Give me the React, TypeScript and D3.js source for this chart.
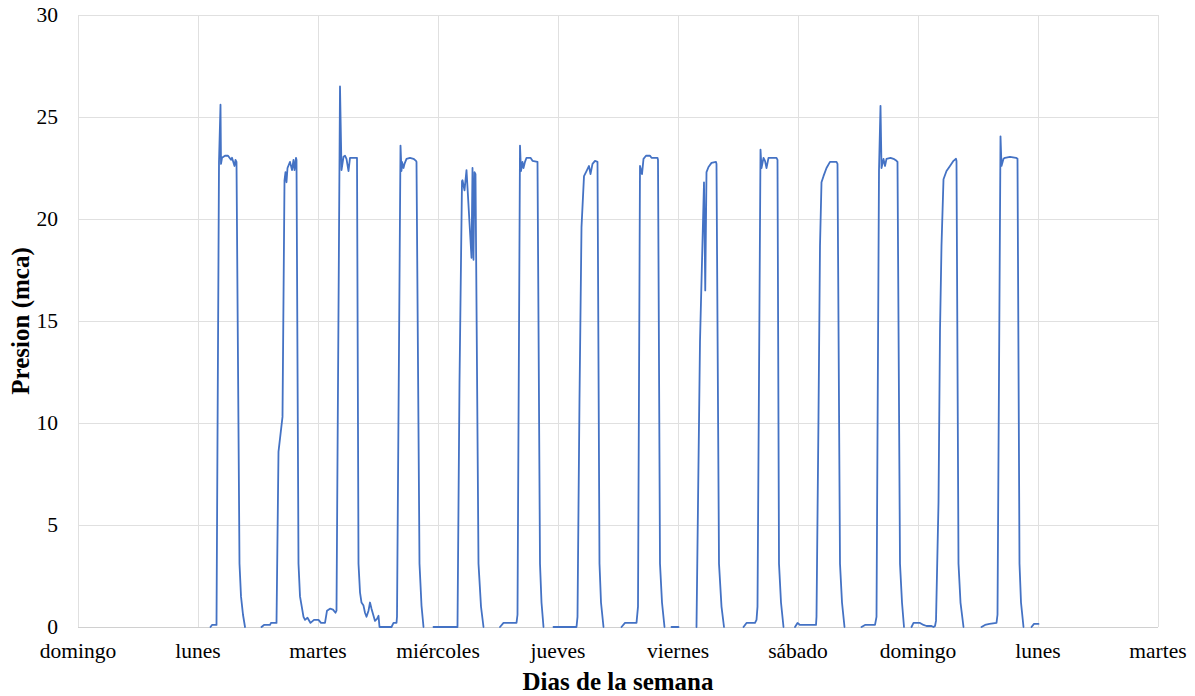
import React from "react";
import * as d3 from "d3";

// Pressure readings: [hours since Sunday 00:00, pressure in m.c.a.]; null marks a gap in logging
const readings: [number, number | null][] = [
  // lunes
  [26.5, 0], [26.8, 0.1], [27.7, 0.1], [28.2, 22.8], [28.5, 25.6], [28.6, 22.7], [28.8, 23.0], [29.4, 23.1],
  [30.0, 23.1], [30.6, 22.9], [30.8, 23.0], [31.3, 22.6], [31.5, 22.9], [31.7, 22.8], [32.3, 3.1], [32.6, 1.5],
  [33.0, 0.6], [33.4, 0], [33.5, null],
  [36.7, 0], [37.2, 0.1], [38.4, 0.1], [38.6, 0.2], [39.7, 0.2], [40.1, 8.6], [40.9, 10.3], [41.3, 21.9],
  [41.5, 22.3], [41.7, 21.8], [41.9, 22.5], [42.4, 22.8], [42.8, 22.4], [43.1, 22.9], [43.3, 22.4], [43.6, 23.0],
  [43.7, 22.9], [44.1, 3.1], [44.4, 1.5], [45.1, 0.5], [45.4, 0.35], [45.9, 0.45], [46.5, 0.2], [47.2, 0.35],
  // martes
  [48.1, 0.35], [48.6, 0.2], [49.4, 0.2], [49.8, 0.8], [50.4, 0.9], [51.0, 0.85], [51.5, 0.7], [51.7, 0.8],
  [52.4, 26.5], [52.7, 22.4], [53.1, 23.05], [53.4, 23.1], [53.7, 22.95], [54.1, 22.35], [54.4, 23.0], [55.8, 23.0],
  [56.1, 3.1], [56.4, 1.7], [56.7, 1.2], [57.1, 1.05], [57.4, 0.7], [57.7, 0.5], [58.1, 0.8], [58.4, 1.2],
  [58.7, 0.9], [59.1, 0.55], [59.4, 0.3], [59.8, 0.4], [60.1, 0.55], [60.3, 0], [62.7, 0], [63.1, 0.2],
  [63.7, 0.2], [63.8, 0.5], [64.5, 23.6], [64.7, 22.35], [64.8, 22.8], [65.1, 22.5], [65.3, 22.7], [65.7, 22.95],
  [66.4, 23.0], [67.1, 22.95], [67.6, 22.85], [67.7, 22.8], [68.3, 3.1], [68.7, 1.05], [69.1, 0], [69.2, null],
  // miércoles
  [71.1, 0], [75.9, 0], [76.3, 12], [76.8, 21.85], [76.9, 21.9], [77.3, 21.4], [77.7, 22.4], [78.7, 18.1],
  [78.9, 22.5], [79.1, 18.0], [79.3, 22.3], [79.5, 22.2], [80.1, 3.1], [80.6, 1.0], [81.1, 0], [81.2, null],
  [84.4, 0], [85.1, 0.2], [87.7, 0.2], [87.9, 0.6], [88.4, 23.6], [88.6, 22.35], [88.9, 22.8], [89.1, 22.5],
  [89.4, 22.8], [89.7, 23.0], [90.5, 23.0], [90.9, 22.85], [91.9, 22.8], [92.4, 3.1], [92.7, 1.2], [93.1, 0],
  [93.2, null],
  // jueves
  [95.1, 0], [99.7, 0], [99.9, 0.5], [100.3, 11.2], [100.7, 19.6], [101.2, 22.1], [101.7, 22.35], [102.2, 22.6],
  [102.5, 22.2], [102.9, 22.7], [103.4, 22.85], [103.9, 22.8], [104.3, 3.1], [104.6, 1.2], [105.1, 0], [105.2, null],
  [108.7, 0], [109.4, 0.2], [111.7, 0.2], [112.0, 1], [112.4, 22.6], [112.8, 22.2], [113.1, 22.95], [113.6, 23.1],
  [114.4, 23.1], [114.7, 23.0], [115.9, 23.0], [116.0, 22.9], [116.4, 3.1], [116.8, 1.2], [117.3, 0], [117.4, null],
  [118.7, 0], [120.1, 0], [120.2, null],
  // viernes
  [123.7, 0], [124.4, 14], [125.2, 21.8], [125.45, 16.5], [125.7, 22.3], [126.1, 22.55], [126.7, 22.75], [127.6, 22.8],
  [127.7, 22.7], [128.2, 3.1], [128.7, 1.0], [129.2, 0], [129.3, null],
  [133.1, 0], [133.7, 0.2], [135.4, 0.2], [135.7, 0.35], [135.9, 1], [136.5, 23.4], [136.7, 22.5], [137.1, 23.0],
  [137.4, 22.85], [137.7, 22.5], [138.1, 23.0], [139.7, 23.0], [139.9, 22.9], [140.2, 3.1], [140.6, 1.2], [141.1, 0],
  [141.2, null],
  // sábado
  [143.4, 0], [143.9, 0.2], [144.4, 0.1], [147.6, 0.1], [147.7, 0.5], [148.1, 10.3], [148.4, 18.7], [148.7, 21.8],
  [149.1, 22.1], [149.7, 22.5], [150.4, 22.8], [151.7, 22.8], [151.9, 22.7], [152.4, 3.1], [152.8, 1.2], [153.3, 0],
  [153.4, null],
  [156.7, 0], [157.4, 0.1], [159.4, 0.1], [159.7, 0.5], [160.2, 22.4], [160.5, 25.55], [160.7, 22.5], [161.1, 22.95],
  [161.4, 22.6], [161.7, 22.95], [162.5, 23.0], [163.1, 22.95], [163.7, 22.85], [163.9, 22.8], [164.4, 3.1], [164.8, 1.2],
  [165.2, 0], [165.3, null],
  // domingo
  [166.7, 0], [167.1, 0.2], [168.4, 0.2], [169.1, 0.1], [169.7, 0.05], [170.7, 0.05], [171.1, 0], [171.4, 0.05],
  [171.6, 0.3], [172.1, 6.1], [172.4, 14.5], [172.7, 18.7], [173.1, 21.95], [173.7, 22.35], [174.4, 22.6], [175.1, 22.85],
  [175.6, 22.95], [175.7, 22.85], [176.1, 3.1], [176.5, 1.2], [177.1, 0], [177.2, null],
  [180.7, 0], [181.4, 0.1], [182.3, 0.15], [183.7, 0.2], [183.9, 0.6], [184.5, 24.05], [184.7, 22.6], [185.1, 22.95],
  [185.4, 23.0], [186.4, 23.05], [187.6, 23.0], [187.9, 22.95], [188.3, 3.1], [188.6, 1.2], [189.1, 0], [189.2, null],
  [190.7, 0], [191.2, 0.15], [192.1, 0.15],
];

const dayLabels = [
  "domingo", "lunes", "martes", "miércoles", "jueves",
  "viernes", "sábado", "domingo", "lunes", "martes",
];
const dayTicks = dayLabels.map((_, i) => i * 24);
const pressureTicks = [0, 5, 10, 15, 20, 25, 30];

const WIDTH = 1195;
const HEIGHT = 696;
const FONT = "'Liberation Serif', 'Times New Roman', serif";

export default function App() {
  const x = d3.scaleLinear().domain([0, 216]).range([78, 1158]);
  const y = d3.scaleLinear().domain([0, 30]).range([627, 15]);

  const path = d3
    .line<[number, number | null]>()
    .defined((d) => d[1] !== null)
    .x((d) => x(d[0]))
    .y((d) => y(d[1] as number))(readings);

  const [x0, x1] = x.range();
  const [y0, y1] = y.range();

  return (
    <svg
      width={WIDTH}
      height={HEIGHT}
      style={{ position: "absolute", left: 0, top: 0, background: "#fff" }}
      fontFamily={FONT}
    >
      <rect width={WIDTH} height={HEIGHT} fill="#fff" />
      <g stroke="#e0e0e0" strokeWidth={1} shapeRendering="crispEdges">
        {pressureTicks.map((t) => (
          <line key={`h${t}`} x1={x0} x2={x1} y1={y(t)} y2={y(t)} />
        ))}
        {dayTicks.map((t) => (
          <line key={`v${t}`} x1={x(t)} x2={x(t)} y1={y0} y2={y1} />
        ))}
      </g>
      <line x1={x0} x2={x1} y1={y0} y2={y0} stroke="#d0d0d0" strokeWidth={1} shapeRendering="crispEdges" />

      <path d={path ?? ""} fill="none" stroke="#4472C4" strokeWidth={1.8} strokeLinejoin="round" strokeLinecap="round" />

      <g fontSize={21.5} fill="#000">
        {pressureTicks.map((t) => (
          <text key={`yl${t}`} x={58} y={y(t)} textAnchor="end" dominantBaseline="central">
            {t}
          </text>
        ))}
        {dayTicks.map((t, i) => (
          <text key={`xl${i}`} x={x(t)} y={658} textAnchor="middle">
            {dayLabels[i]}
          </text>
        ))}
      </g>

      <text x={(x0 + x1) / 2} y={690} textAnchor="middle" fontSize={25} fontWeight="bold">
        Dias de la semana
      </text>
      <text
        transform={`translate(29, ${(y0 + y1) / 2}) rotate(-90)`}
        textAnchor="middle"
        fontSize={25}
        fontWeight="bold"
      >
        Presion (mca)
      </text>
    </svg>
  );
}
